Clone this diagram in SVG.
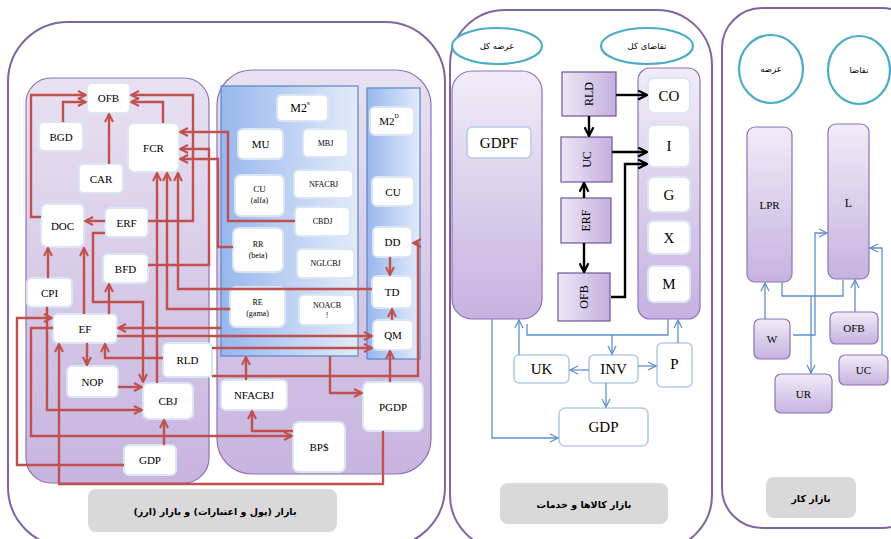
<svg xmlns="http://www.w3.org/2000/svg" width="891" height="539" viewBox="0 0 891 539">
<defs>
<linearGradient id="gSubV" x1="0" y1="0" x2="0" y2="1"><stop offset="0" stop-color="#e8e1f1"/><stop offset="1" stop-color="#c7b4df"/></linearGradient>
<linearGradient id="gBlue" x1="0" y1="0" x2="1" y2="0"><stop offset="0" stop-color="#98b7ee"/><stop offset="1" stop-color="#e2ebf9"/></linearGradient>
<linearGradient id="gTall" x1="0" y1="0" x2="0" y2="1"><stop offset="0" stop-color="#f0ecf7"/><stop offset="1" stop-color="#c6b2e0"/></linearGradient>
<linearGradient id="gBoxH" x1="0" y1="0" x2="1" y2="0"><stop offset="0" stop-color="#ede7f5"/><stop offset="1" stop-color="#c4afdf"/></linearGradient>
<marker id="ar" viewBox="0 0 10 10" refX="9" refY="5" markerWidth="10" markerHeight="10" markerUnits="userSpaceOnUse" orient="auto"><path d="M1,1 L9,5 L1,9" fill="none" stroke="#c0504d" stroke-width="2"/></marker>
<marker id="ak" viewBox="0 0 10 10" refX="9" refY="5" markerWidth="11" markerHeight="11" markerUnits="userSpaceOnUse" orient="auto"><path d="M1,1 L9,5 L1,9" fill="none" stroke="#000" stroke-width="2"/></marker>
<marker id="ab" viewBox="0 0 10 10" refX="9" refY="5" markerWidth="10" markerHeight="10" markerUnits="userSpaceOnUse" orient="auto"><path d="M1,1 L9,5 L1,9" fill="none" stroke="#5f8fcf" stroke-width="1.3"/></marker>
</defs>
<style>
.panel{fill:#fff;stroke:#8064a2;stroke-width:2}
.sub{fill:url(#gSubV);stroke:#8e72b8;stroke-width:1.2}
.blue{fill:url(#gBlue);stroke:#5b85c7;stroke-width:1.2}
.wn{fill:#fff;stroke:#dbe5f3;stroke-width:2}
.bn{fill:#fff;stroke:#b6cbe6;stroke-width:1.6}
.pb{fill:url(#gBoxH);stroke:#6f5698;stroke-width:1.2}
.pv{fill:url(#gTall);stroke:#8e72b8;stroke-width:1.2}
.ell{fill:#fff;stroke:#4bacc6;stroke-width:2.2}
.lab{fill:#d9d9d9}
text{font-family:"Liberation Serif","DejaVu Serif",serif;fill:#000;text-anchor:middle;dominant-baseline:central}
.t11{font-size:11px}
.t9{font-size:9px}
.t8{font-size:8px}
.t14{font-size:15px}
.t12{font-size:12px}
.fa{font-family:"DejaVu Sans",sans-serif;font-size:8.5px}
.fab{font-family:"DejaVu Sans",sans-serif;font-size:9.5px;font-weight:bold}
.red path{fill:none;stroke:#c0504d;stroke-width:2.4;marker-end:url(#ar)}
.red path.nm{marker-end:none}
.blk path{fill:none;stroke:#000;stroke-width:2.4;marker-end:url(#ak)}
.blu path{fill:none;stroke:#5f8fcf;stroke-width:1.3;marker-end:url(#ab)}
.blu path.nm{marker-end:none}
</style>

<!-- panels -->
<rect class="panel" x="8" y="22" width="437" height="525" rx="60"/>
<rect class="panel" x="450" y="10" width="262" height="540" rx="55"/>
<rect class="panel" x="722" y="8" width="200" height="520" rx="40"/>

<rect class="sub" x="26" y="78" width="183" height="405" rx="25"/>
<rect class="sub" x="217" y="70" width="214" height="404" rx="35"/>
<rect class="blue" x="221" y="86" width="137" height="270"/>
<rect class="blue" x="367" y="88" width="53" height="271"/>

<!-- left nodes -->
<g id="n-ofb"><rect class="wn" x="87" y="83" width="43" height="30" rx="5"/><text class="t11" x="108.5" y="98">OFB</text></g>
<g id="n-bgd"><rect class="wn" x="39" y="122" width="44" height="29" rx="5"/><text class="t11" x="61" y="136.5">BGD</text></g>
<g id="n-fcr"><rect class="wn" x="128" y="123" width="51" height="49" rx="6"/><text class="t11" x="153.5" y="147.5">FCR</text></g>
<g id="n-car"><rect class="wn" x="79" y="164" width="44" height="29" rx="5"/><text class="t11" x="101" y="178.5">CAR</text></g>
<g id="n-doc"><rect class="wn" x="41" y="204" width="43" height="43" rx="6"/><text class="t11" x="62.5" y="225.5">DOC</text></g>
<g id="n-erf"><rect class="wn" x="105" y="208" width="43" height="29" rx="5"/><text class="t11" x="126.5" y="222.5">ERF</text></g>
<g id="n-bfd"><rect class="wn" x="103" y="254" width="45" height="29" rx="5"/><text class="t11" x="125.5" y="268.5">BFD</text></g>
<g id="n-cpi"><rect class="wn" x="27" y="278" width="45" height="29" rx="5"/><text class="t11" x="49.5" y="292.5">CPI</text></g>
<g id="n-ef"><rect class="wn" x="53" y="314" width="64" height="29" rx="5"/><text class="t11" x="85" y="328.5">EF</text></g>
<g id="n-nop"><rect class="wn" x="67" y="366" width="51" height="31" rx="5"/><text class="t11" x="92.5" y="381.5">NOP</text></g>
<g id="n-rld"><rect class="wn" x="163" y="343" width="49" height="34" rx="5"/><text class="t11" x="187.5" y="360">RLD</text></g>
<g id="n-cbj"><rect class="wn" x="143" y="383" width="50" height="36" rx="6"/><text class="t11" x="168" y="401">CBJ</text></g>
<g id="n-gdp"><rect class="wn" x="124" y="445" width="52" height="30" rx="5"/><text class="t11" x="150" y="460">GDP</text></g>

<g id="n-m2s"><rect class="wn" x="277" y="95" width="51" height="26" rx="5"/><text class="t12" x="300" y="108">M2<tspan font-size="7" dy="-5">s</tspan></text></g>
<g id="n-mu"><rect class="wn" x="238" y="129" width="45" height="30" rx="5"/><text class="t11" x="260.5" y="144">MU</text></g>
<g id="n-mbj"><rect class="wn" x="303" y="129" width="45" height="28" rx="5"/><text class="t8" x="325.5" y="143">MBJ</text></g>
<g id="n-cua"><rect class="wn" x="235" y="175" width="49" height="41" rx="6"/><text class="t9" x="259.5" y="189">CU</text><text class="t8" x="259.5" y="200">(alfa)</text></g>
<g id="n-nfacbj"><rect class="wn" x="294" y="170" width="59" height="28" rx="5"/><text class="t8" x="323.5" y="184">NFACBJ</text></g>
<g id="n-cbdj"><rect class="wn" x="295" y="207" width="55" height="29" rx="5"/><text class="t8" x="322.5" y="221.5">CBDJ</text></g>
<g id="n-rr"><rect class="wn" x="233" y="228" width="50" height="44" rx="6"/><text class="t8" x="258" y="244">RR</text><text class="t8" x="258" y="255">(beta)</text></g>
<g id="n-nglcbj"><rect class="wn" x="297" y="249" width="57" height="29" rx="5"/><text class="t8" x="325.5" y="263.5">NGLCBJ</text></g>
<g id="n-re"><rect class="wn" x="230" y="287" width="55" height="40" rx="6"/><text class="t8" x="257.5" y="302">RE</text><text class="t8" x="257.5" y="313">(gama)</text></g>
<g id="n-noacb"><rect class="wn" x="299" y="295" width="56" height="30" rx="5"/><text class="t8" x="327" y="305">NOACB</text><text class="t8" x="327" y="315">!</text></g>
<g id="n-m2d"><rect class="wn" x="370" y="107" width="44" height="28" rx="5"/><text class="t11" x="389" y="121">M2<tspan font-size="6" dy="-5">D</tspan></text></g>
<g id="n-cu"><rect class="wn" x="372" y="177" width="42" height="29" rx="5"/><text class="t11" x="393" y="191.5">CU</text></g>
<g id="n-dd"><rect class="wn" x="373" y="227" width="39" height="30" rx="5"/><text class="t11" x="392.5" y="242">DD</text></g>
<g id="n-td"><rect class="wn" x="372" y="276" width="40" height="32" rx="5"/><text class="t11" x="392" y="292">TD</text></g>
<g id="n-qm"><rect class="wn" x="373" y="320" width="40" height="30" rx="5"/><text class="t11" x="393" y="335">QM</text></g>
<g id="n-nfacbj2"><rect class="wn" x="221" y="380" width="66" height="30" rx="5"/><text class="t11" x="254" y="395">NFACBJ</text></g>
<g id="n-pgdp"><rect class="wn" x="363" y="382" width="60" height="49" rx="6"/><text class="t11" x="393" y="406.5">PGDP</text></g>
<g id="n-bps"><rect class="wn" x="293" y="422" width="52" height="50" rx="6"/><text class="t11" x="319" y="447">BP$</text></g>

<g id="lab-money"><rect class="lab" x="88" y="489" width="249" height="43" rx="8"/><text class="fab" x="215" y="511" direction="rtl">بازار (پول و اعتبارات) و بازار (ارز)</text></g>

<!-- middle panel -->
<g id="e-supply"><ellipse class="ell" cx="497" cy="46" rx="45" ry="18"/><text class="fa" x="497" y="46">عرضه کل</text></g>
<g id="e-demand"><ellipse class="ell" cx="647" cy="46" rx="46" ry="18"/><text class="fa" x="647" y="46">تقاضای کل</text></g>
<g id="n-gdpf-area"><rect class="pv" x="452" y="71" width="90" height="248" rx="20"/></g>
<g id="n-gdpf"><rect class="bn" x="467" y="127" width="64" height="31" rx="5"/><text class="t14" x="499" y="143">GDPF</text></g>
<g id="n-dem-area"><rect class="pv" x="638" y="68" width="62" height="251" rx="12"/></g>
<g id="n-co"><rect class="wn" x="648" y="78" width="42" height="35" rx="6"/><text class="t14" x="669" y="96">CO</text></g>
<g id="n-i"><rect class="wn" x="648" y="125" width="42" height="42" rx="6"/><text class="t14" x="669" y="146">I</text></g>
<g id="n-g"><rect class="wn" x="648" y="177" width="42" height="35" rx="6"/><text class="t14" x="669" y="194.5">G</text></g>
<g id="n-x"><rect class="wn" x="648" y="221" width="42" height="33" rx="6"/><text class="t14" x="669" y="237.5">X</text></g>
<g id="n-m"><rect class="wn" x="648" y="266" width="42" height="36" rx="6"/><text class="t14" x="669" y="284">M</text></g>
<g id="n-rld2"><rect class="pb" x="562" y="72" width="54" height="44"/><text class="t12" transform="translate(589,94) rotate(-90)">RLD</text></g>
<g id="n-uc2"><rect class="pb" x="561" y="137" width="51" height="45"/><text class="t12" transform="translate(586.5,159.5) rotate(-90)">UC</text></g>
<g id="n-erf2"><rect class="pb" x="561" y="198" width="50" height="45"/><text class="t12" transform="translate(586,220.5) rotate(-90)">ERF</text></g>
<g id="n-ofb2"><rect class="pb" x="558" y="273" width="52" height="48"/><text class="t12" transform="translate(584,297) rotate(-90)">OFB</text></g>
<g id="n-uk"><rect class="bn" x="514" y="355" width="55" height="28" rx="5"/><text class="t14" x="541.5" y="369">UK</text></g>
<g id="n-inv"><rect class="bn" x="589" y="355" width="49" height="28" rx="5"/><text class="t14" x="613.5" y="369">INV</text></g>
<g id="n-p"><rect class="bn" x="657" y="343" width="35" height="44" rx="5"/><text class="t14" x="674.5" y="364">P</text></g>
<g id="n-gdp2"><rect class="bn" x="559" y="408" width="89" height="38" rx="6"/><text class="t14" x="603.5" y="427">GDP</text></g>
<g id="lab-goods"><rect class="lab" x="500" y="483" width="168" height="41" rx="8"/><text class="fab" x="584" y="504" direction="rtl">بازار کالاها و خدمات</text></g>

<!-- right panel -->
<g id="e-supply2"><ellipse class="ell" cx="771" cy="69" rx="32" ry="34"/><text class="fa" x="771" y="69">عرضه</text></g>
<g id="e-demand2"><ellipse class="ell" cx="859" cy="70" rx="31" ry="34"/><text class="fa" x="859" y="70">تقاضا</text></g>
<g id="n-lpr"><rect class="pv" x="747" y="127" width="45" height="155" rx="8"/><text class="t11" x="769.5" y="205">LPR</text></g>
<g id="n-l"><rect class="pv" x="828" y="124" width="41" height="155" rx="8"/><text class="t12" x="848.5" y="203">L</text></g>
<g id="n-w"><rect class="pv" x="754" y="319" width="36" height="40" rx="6"/><text class="t11" x="772" y="339">W</text></g>
<g id="n-ofb3"><rect class="pv" x="830" y="312" width="48" height="32" rx="6"/><text class="t11" x="854" y="328">OFB</text></g>
<g id="n-uc3"><rect class="pv" x="839" y="355" width="49" height="30" rx="6"/><text class="t11" x="863.5" y="370">UC</text></g>
<g id="n-ur"><rect class="pv" x="775" y="374" width="57" height="39" rx="6"/><text class="t11" x="803.5" y="393.5">UR</text></g>
<g id="lab-labor"><rect class="lab" x="766" y="477" width="90" height="41" rx="8"/><text class="fab" x="811" y="498" direction="rtl">بازار کار</text></g>

<!-- connectors -->
<g id="connectors">
<g class="red">
<path d="M41,217 H31 V95 H86"/>
<path d="M63,122 V102 H86"/>
<path d="M109,164 V114"/>
<path d="M163,123 V102 H131"/>
<path d="M148,221 H193 V95 H131"/>
<path d="M105,221 H85"/>
<path d="M295,221 H228 V132 H180"/>
<path d="M148,265 H209 V149 H180"/>
<path d="M233,247 H218 V159 H180"/>
<path d="M157,383 V173"/>
<path d="M230,309 H167 V173"/>
<path d="M372,289 H178 V173"/>
<path d="M105,233 H93 V302 H143 V382"/>
<path d="M48,278 V248"/>
<path d="M84,314 V248"/>
<path d="M109,314 V284"/>
<path d="M163,358 H105 V344"/>
<path d="M87,343 V365"/>
<path d="M118,387 H142"/>
<path d="M164,445 V420"/>
<path d="M47,307 V410 H142"/>
<path d="M124,465 H17 V318 H52"/>
<path d="M53,328 H31 V436 H292"/>
<path d="M383,431 V484 H59 V344"/>
<path d="M221,328 H118"/>
<path d="M117,336 H372"/>
<path d="M212,348 H372"/>
<path d="M212,376 H418 V243 H413"/>
<path d="M390,257 V275"/>
<path d="M392,320 V309"/>
<path d="M390,382 V351"/>
<path d="M246,380 V357"/>
<path d="M330,356 V393 H362"/>
<path d="M293,431 H252 V411"/>
</g>
<g class="blk">
<path d="M616,95 H647"/>
<path d="M589,116 V136"/>
<path d="M612,152 H647"/>
<path d="M611,297 H625 V164 H647"/>
<path d="M584,198 V183"/>
<path d="M584,243 V272"/>
</g>
<g class="blu">
<path d="M492,319 V438 H558"/>
<path d="M519,355 V320"/>
<path class="nm" d="M668,319 V335 H527 V324"/>
<path d="M612,335 V354"/>
<path d="M589,370 H570"/>
<path d="M638,366 H656"/>
<path d="M606,383 V407"/>
<path d="M678,343 V320"/>
<path d="M765,319 V283"/>
<path class="nm" d="M782,282 V296 H843 V280"/>
<path d="M811,296 V373"/>
<path d="M793,335 H815 V233 H827"/>
<path d="M855,312 V280"/>
<path d="M882,355 V248 H870"/>
</g>
</g>
</svg>
